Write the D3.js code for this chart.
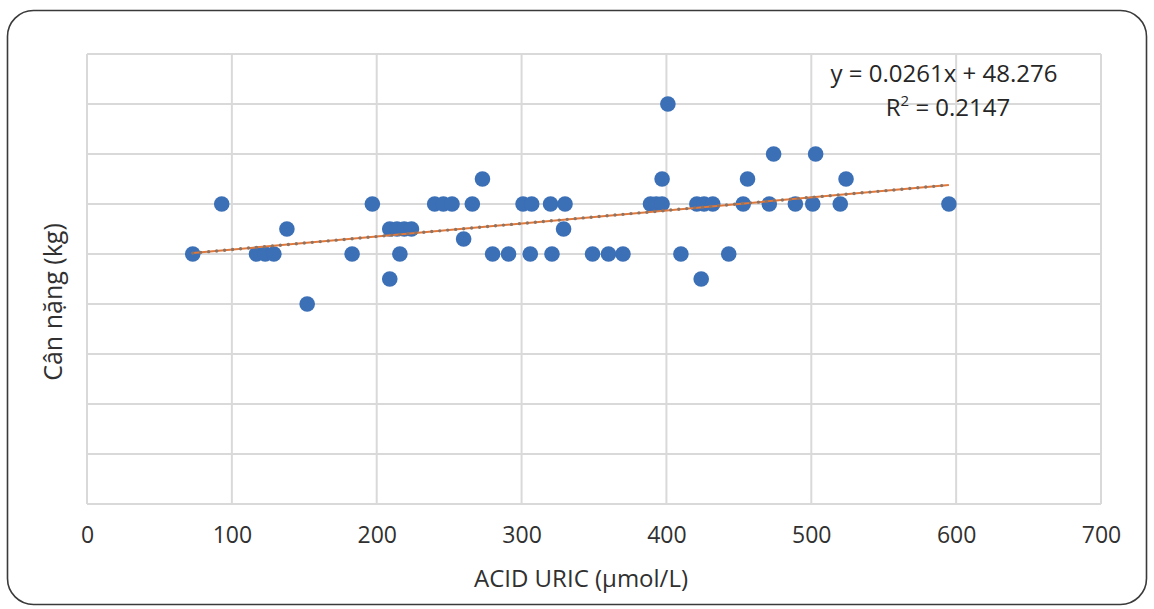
<!DOCTYPE html>
<html>
<head>
<meta charset="utf-8">
<script src="https://cdn.jsdelivr.net/npm/d3@7"></script>
<style>
  body { margin: 0; background: #fff; }
  svg { display: block; font-family: "Open Sans", "Noto Sans", sans-serif; }
</style>
</head>
<body>
<svg width="1154" height="609"></svg>
<script>
/*Data: acid uric (x) and weight (y) for every patient*/

var acidUric = [73, 93, 117, 123, 129, 138, 152, 183, 197, 209, 209, 214, 219, 224, 216,
  240, 246, 252, 260, 266, 273, 280, 291, 301, 307, 306, 320, 330, 321, 329,
  349, 360, 370, 389, 393, 397, 397, 401, 410, 421, 426, 432, 424, 443,
  453, 456, 471, 474, 489, 501, 503, 520, 524, 595];

var canNang = [50, 60, 50, 50, 50, 55, 40, 50, 60, 45, 55, 55, 55, 55, 50,
  60, 60, 60, 53, 60, 65, 50, 50, 60, 60, 50, 60, 60, 50, 55,
  50, 50, 50, 60, 60, 60, 65, 80, 50, 60, 60, 60, 45, 50,
  60, 65, 60, 70, 60, 60, 70, 60, 65, 60];

var xTicks = [0, 100, 200, 300, 400, 500, 600, 700];
var yTicks = [0, 10, 20, 30, 40, 50, 60, 70, 80, 90];

/*Trendline as given in the chart*/
var trendSlope = 0.0261,
    trendIntercept = 48.276,
    trendLabel = "y = 0.0261x + 48.276",
    r2Label = "0.2147";

var data = acidUric.map(function(d, i) { return {x: d, y: canNang[i]}; });

var svg = d3.select("svg"),
    margin = {top: 54, right: 53, bottom: 105, left: 87},
    width = +svg.attr("width") - margin.left - margin.right,
    height = +svg.attr("height") - margin.top - margin.bottom,
    g = svg.append("g").attr("transform", "translate(" + margin.left + "," + margin.top + ")");

/*Rounded frame round the whole chart*/
svg.append("rect")
    .attr("x", 7.5)
    .attr("y", 10.5)
    .attr("width", 1139)
    .attr("height", 594)
    .attr("rx", 26)
    .attr("fill", "none")
    .attr("stroke", "#3a3a3a")
    .attr("stroke-width", 1.6);

var x = d3.scaleLinear()
    .domain([0, 700])
    .range([0, width]);

var y = d3.scaleLinear()
    .domain([0, 90])
    .range([height, 0]);

/*Gridlines (no y labels in the original)*/
g.append("g")
    .selectAll("line")
    .data(yTicks)
    .enter().append("line")
      .attr("x1", 0)
      .attr("x2", width)
      .attr("y1", function(d) { return y(d); })
      .attr("y2", function(d) { return y(d); })
      .attr("stroke", "#d9d9d9")
      .attr("stroke-width", 2);

g.append("g")
    .selectAll("line")
    .data(xTicks)
    .enter().append("line")
      .attr("x1", function(d) { return x(d); })
      .attr("x2", function(d) { return x(d); })
      .attr("y1", 0)
      .attr("y2", height)
      .attr("stroke", "#d9d9d9")
      .attr("stroke-width", 2);

/*x axis labels through d3.axisBottom, line and ticks removed*/
var xAxis = g.append("g")
    .attr("transform", "translate(0," + height + ")")
    .call(d3.axisBottom(x).tickValues(xTicks).tickSize(0).tickPadding(23).tickFormat(d3.format("d")));

xAxis.select(".domain").remove();
xAxis.selectAll("text")
    .attr("font-family", "Open Sans, Noto Sans, sans-serif")
    .attr("font-size", 23)
    .attr("fill", "#303030");

/*Axis titles*/
svg.append("text")
    .attr("x", 581)
    .attr("y", 587)
    .attr("text-anchor", "middle")
    .attr("font-size", 24)
    .attr("fill", "#303030")
    .text("ACID URIC (µmol/L)");

svg.append("text")
    .attr("transform", "translate(62,302) rotate(-90)")
    .attr("text-anchor", "middle")
    .attr("font-size", 25)
    .attr("fill", "#303030")
    .text("Cân nặng (kg)");

/*Trendline: orange line with small darker dots on top*/
var xr = d3.extent(acidUric);
var trend = [xr[0], xr[1]].map(function(v) { return {x: v, y: trendSlope * v + trendIntercept}; });

var line = d3.line()
    .x(function(d) { return x(d.x); })
    .y(function(d) { return y(d.y); });

/*Points*/
g.append("g")
    .selectAll("circle")
    .data(data)
    .enter().append("circle")
      .attr("cx", function(d) { return x(d.x); })
      .attr("cy", function(d) { return y(d.y); })
      .attr("r", 7.8)
      .attr("fill", "#3b6fb6");

g.append("path")
    .datum(trend)
    .attr("fill", "none")
    .attr("stroke", "#e2773a")
    .attr("stroke-width", 2)
    .attr("d", line);

g.append("path")
    .datum(trend)
    .attr("fill", "none")
    .attr("stroke", "#8f7464")
    .attr("stroke-width", 3.4)
    .attr("stroke-linecap", "round")
    .attr("stroke-dasharray", "0,8")
    .attr("d", line);

/*Equation label, two lines*/
svg.append("text")
    .attr("x", 944)
    .attr("y", 82)
    .attr("text-anchor", "middle")
    .attr("font-size", 24)
    .attr("fill", "#262626")
    .text(trendLabel);

var r2 = svg.append("text")
    .attr("x", 948)
    .attr("y", 116)
    .attr("text-anchor", "middle")
    .attr("font-size", 24)
    .attr("fill", "#262626");

r2.append("tspan").text("R");
r2.append("tspan").attr("font-size", 15).attr("dy", -10).text("2");
r2.append("tspan").attr("dy", 10).text(" = " + r2Label);
</script>
</body>
</html>
